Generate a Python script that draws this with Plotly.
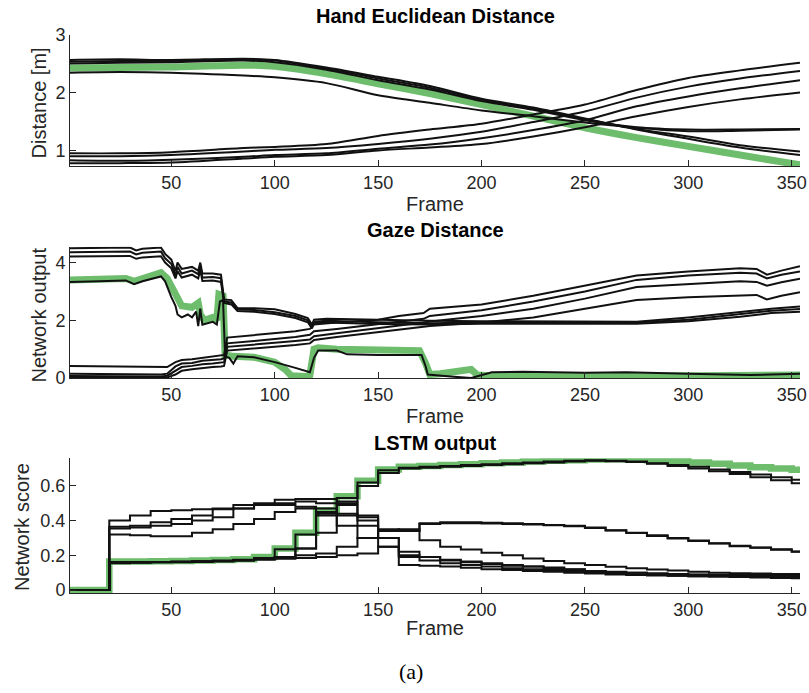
import plotly.graph_objects as go

# ---------------- Panel 1: Hand Euclidean Distance ----------------
hand_frames = [1, 25, 50, 85, 100, 125, 150, 175, 200, 225, 250, 275, 300, 325, 354]
hand_green = [2.43, 2.44, 2.45, 2.48, 2.46, 2.33, 2.16, 1.99, 1.80, 1.60, 1.40, 1.23, 1.08, 0.93, 0.76]
hand_a = [0.96, 0.96, 0.98, 1.05, 1.07, 1.12, 1.26, 1.37, 1.47, 1.63, 1.80, 2.05, 2.26, 2.39, 2.52]
hand_b = [0.91, 0.91, 0.93, 0.99, 1.02, 1.05, 1.12, 1.21, 1.33, 1.50, 1.68, 1.92, 2.11, 2.25, 2.38]
hand_c = [0.84, 0.83, 0.85, 0.90, 0.93, 0.96, 1.04, 1.11, 1.22, 1.36, 1.53, 1.77, 1.94, 2.08, 2.22]
hand_d = [0.79, 0.79, 0.80, 0.87, 0.90, 0.93, 1.01, 1.06, 1.12, 1.25, 1.41, 1.60, 1.76, 1.89, 2.01]
hand_e = [2.35, 2.36, 2.35, 2.30, 2.27, 2.17, 1.96, 1.83, 1.70, 1.60, 1.49, 1.40, 1.34, 1.35, 1.37]
hand_f = [2.51, 2.52, 2.53, 2.56, 2.53, 2.40, 2.22, 2.06, 1.86, 1.71, 1.53, 1.41, 1.37, 1.37, 1.38]
hand_g = [2.54, 2.55, 2.55, 2.58, 2.56, 2.42, 2.25, 2.09, 1.88, 1.73, 1.55, 1.38, 1.25, 1.10, 0.99]
hand_h = [2.57, 2.58, 2.57, 2.59, 2.57, 2.44, 2.28, 2.12, 1.90, 1.75, 1.56, 1.37, 1.21, 1.06, 0.93]

# ---------------- Panel 2: Gaze Distance ----------------
gaze_top_frames = [1, 30, 33, 36, 45, 47, 50, 52, 53, 55, 60, 63, 64, 65, 70, 74, 75.5, 79, 82, 90,
                   100, 110, 116, 118, 119, 125, 150, 175, 200, 225, 250, 275, 300, 325, 340, 354]
gaze_t1 = [4.50, 4.52, 4.42, 4.48, 4.52, 4.30, 4.10, 3.70, 4.00, 3.78, 3.85, 3.72, 4.00, 3.62, 3.62, 3.58,
           2.72, 2.70, 2.42, 2.42, 2.38, 2.22, 2.08, 1.85, 2.02, 2.05, 2.02, 1.98, 1.97, 1.97, 1.96, 1.95,
           2.10, 2.30, 2.40, 2.48]
gaze_t2 = [4.36, 4.38, 4.28, 4.34, 4.38, 4.15, 3.95, 3.55, 3.85, 3.62, 3.72, 3.60, 3.90, 3.48, 3.50, 3.46,
           2.65, 2.62, 2.38, 2.36, 2.28, 2.15, 2.00, 1.78, 1.95, 1.98, 1.93, 1.90, 1.92, 1.92, 1.92, 1.92,
           2.02, 2.20, 2.33, 2.39]
gaze_t3 = [4.21, 4.23, 4.13, 4.18, 4.22, 4.00, 3.80, 3.45, 3.70, 3.48, 3.58, 3.45, 3.75, 3.36, 3.38, 3.33,
           2.60, 2.55, 2.32, 2.30, 2.22, 2.08, 1.93, 1.72, 1.90, 1.92, 1.87, 1.85, 1.88, 1.89, 1.88, 1.88,
           1.97, 2.12, 2.25, 2.30]

gaze_rise_frames = [1, 45, 48, 52, 55, 60, 65, 70, 74, 75.5, 77, 90, 100, 110, 117, 119, 130, 150, 160,
                    172, 175, 200, 225, 250, 275, 300, 325, 333, 338, 345, 354]
gaze_r1 = [0.42, 0.40, 0.38, 0.55, 0.62, 0.65, 0.70, 0.75, 0.78, 0.80, 1.40, 1.48, 1.55, 1.62, 1.70, 1.85,
           1.92, 2.02, 2.15, 2.25, 2.40, 2.55, 2.85, 3.20, 3.55, 3.69, 3.80, 3.78, 3.58, 3.72, 3.87]
gaze_r2 = [0.15, 0.12, 0.15, 0.40, 0.50, 0.52, 0.60, 0.62, 0.65, 0.68, 1.20, 1.28, 1.35, 1.42, 1.50, 1.62,
           1.70, 1.85, 1.95, 2.05, 2.15, 2.35, 2.65, 3.00, 3.40, 3.55, 3.65, 3.62, 3.45, 3.58, 3.69]
gaze_r3 = [0.07, 0.05, 0.08, 0.25, 0.38, 0.42, 0.48, 0.50, 0.52, 0.55, 1.08, 1.15, 1.22, 1.28, 1.33, 1.45,
           1.55, 1.72, 1.82, 1.92, 1.96, 2.15, 2.40, 2.75, 3.15, 3.25, 3.35, 3.33, 3.20, 3.32, 3.44]
gaze_r4 = [0.02, 0.00, 0.02, 0.12, 0.25, 0.30, 0.35, 0.38, 0.40, 0.42, 0.95, 1.02, 1.08, 1.14, 1.20, 1.32,
           1.42, 1.58, 1.68, 1.76, 1.80, 1.92, 2.10, 2.40, 2.70, 2.80, 2.88, 2.88, 2.72, 2.85, 2.97]

gaze_black_frames = [1, 28, 32, 36, 45, 47, 50, 52, 53, 55, 58, 60, 62, 63, 64, 65, 70, 72, 73.5, 75,
                     76, 78, 80, 82, 90, 100, 110, 117, 119, 121, 130, 135, 150, 171, 173, 174, 185, 195,
                     205, 220, 250, 270, 300, 330, 354]
gaze_black = [3.33, 3.38, 3.25, 3.35, 3.52, 3.35, 2.80, 2.50, 2.20, 2.10, 2.20, 2.10, 2.30, 1.80, 2.40,
              1.85, 1.95, 1.85, 2.65, 2.70, 0.75, 0.70, 0.50, 0.75, 0.72, 0.55, 0.35, 0.20, 0.70, 0.95,
              0.95, 0.82, 0.80, 0.80, 0.40, 0.12, 0.05, 0.00, 0.20, 0.22, 0.18, 0.20, 0.15, 0.10, 0.15]

gaze_green_frames = [1, 28, 32, 36, 45, 48, 52, 55, 60, 63, 64, 66, 70, 72, 73, 75, 76, 80, 90, 100,
                     105, 108, 115, 117, 119, 121, 130, 150, 170, 173, 175, 180, 190, 195, 198, 210,
                     250, 300, 354]
gaze_green = [3.40, 3.45, 3.35, 3.45, 3.65, 3.45, 2.90, 2.50, 2.45, 2.60, 2.20, 2.00, 2.10, 2.00, 2.90,
              2.85, 0.80, 0.75, 0.72, 0.55, 0.30, 0.08, 0.05, 0.10, 1.00, 1.05, 1.00, 0.98, 0.95, 0.50,
              0.12, 0.15, 0.25, 0.30, 0.10, 0.05, 0.05, 0.05, 0.10]

# ---------------- Panel 3: LSTM output (step values every 10 frames) ----------------
lstm_frames = [1, 20, 30, 40, 50, 60, 70, 80, 90, 100, 110, 120, 130, 140, 150, 160, 170, 180, 190, 200,
               210, 220, 230, 240, 250, 260, 270, 280, 290, 300, 310, 320, 330, 340, 350, 354]
lstm_green = [0, 0.165, 0.165, 0.166, 0.167, 0.17, 0.173, 0.177, 0.19, 0.24, 0.33, 0.46, 0.54, 0.63,
              0.695, 0.71, 0.715, 0.72, 0.725, 0.73, 0.735, 0.74, 0.745, 0.748, 0.752, 0.754, 0.752,
              0.748, 0.742, 0.735, 0.727, 0.718, 0.708, 0.70, 0.693, 0.693]
lstm_l1 = [0, 0.40, 0.43, 0.455, 0.46, 0.465, 0.47, 0.49, 0.50, 0.52, 0.525, 0.525, 0.51, 0.43, 0.35,
           0.345, 0.385, 0.39, 0.39, 0.388, 0.385, 0.38, 0.375, 0.37, 0.36, 0.345, 0.33, 0.315, 0.30,
           0.285, 0.27, 0.255, 0.245, 0.235, 0.222, 0.22]
lstm_l2 = [0, 0.365, 0.37, 0.39, 0.41, 0.43, 0.465, 0.47, 0.49, 0.50, 0.51, 0.50, 0.49, 0.40, 0.34,
           0.34, 0.38, 0.385, 0.385, 0.383, 0.38, 0.378, 0.373, 0.367, 0.357, 0.343, 0.328, 0.312,
           0.297, 0.282, 0.268, 0.253, 0.243, 0.232, 0.22, 0.218]
lstm_l3 = [0, 0.355, 0.36, 0.37, 0.38, 0.40, 0.42, 0.47, 0.49, 0.49, 0.48, 0.47, 0.43, 0.37, 0.30,
           0.22, 0.19, 0.17, 0.16, 0.15, 0.14, 0.135, 0.13, 0.12, 0.11, 0.105, 0.10, 0.095, 0.09,
           0.088, 0.085, 0.083, 0.08, 0.078, 0.075, 0.075]
lstm_l4 = [0, 0.32, 0.315, 0.31, 0.31, 0.33, 0.35, 0.38, 0.41, 0.45, 0.47, 0.43, 0.37, 0.30, 0.25,
           0.19, 0.17, 0.155, 0.145, 0.135, 0.125, 0.12, 0.115, 0.11, 0.10, 0.095, 0.09, 0.086,
           0.082, 0.08, 0.078, 0.075, 0.072, 0.07, 0.068, 0.067]
lstm_l5 = [0, 0.16, 0.16, 0.162, 0.163, 0.165, 0.168, 0.172, 0.18, 0.19, 0.20, 0.21, 0.25, 0.30, 0.34,
           0.35, 0.287, 0.25, 0.234, 0.215, 0.20, 0.182, 0.168, 0.155, 0.144, 0.134, 0.125, 0.118,
           0.112, 0.105, 0.10, 0.097, 0.095, 0.093, 0.092, 0.092]
lstm_l6 = [0, 0.16, 0.16, 0.162, 0.163, 0.166, 0.17, 0.175, 0.185, 0.235, 0.32, 0.45, 0.53, 0.62, 0.69,
           0.705, 0.71, 0.715, 0.72, 0.725, 0.73, 0.735, 0.74, 0.745, 0.748, 0.745, 0.74, 0.73, 0.72,
           0.71, 0.695, 0.68, 0.665, 0.65, 0.635, 0.632]
lstm_l7 = [0, 0.155, 0.158, 0.16, 0.162, 0.165, 0.168, 0.172, 0.18, 0.19, 0.24, 0.44, 0.50, 0.60, 0.675,
           0.70, 0.705, 0.71, 0.715, 0.72, 0.725, 0.73, 0.735, 0.74, 0.745, 0.742, 0.737, 0.727, 0.715,
           0.70, 0.685, 0.668, 0.65, 0.632, 0.615, 0.61]
lstm_l8 = [0, 0.16, 0.16, 0.162, 0.163, 0.165, 0.168, 0.172, 0.18, 0.19, 0.24, 0.33, 0.44, 0.42, 0.30,
           0.20, 0.19, 0.175, 0.165, 0.155, 0.145, 0.135, 0.125, 0.118, 0.11, 0.104, 0.10, 0.096,
           0.093, 0.09, 0.088, 0.087, 0.086, 0.085, 0.084, 0.084]
lstm_l9 = [0, 0.158, 0.158, 0.16, 0.16, 0.162, 0.165, 0.17, 0.175, 0.18, 0.185, 0.19, 0.20, 0.21, 0.25,
           0.145, 0.14, 0.135, 0.128, 0.12, 0.115, 0.11, 0.105, 0.10, 0.095, 0.09, 0.087, 0.084,
           0.082, 0.08, 0.078, 0.077, 0.076, 0.075, 0.074, 0.074]

x_ticks = [50, 100, 150, 200, 250, 300, 350]

GREEN = "#6dbd6d"
BLACK = "#111111"
AXC = "#262626"
FONT = "Liberation Sans, Arial, Helvetica, sans-serif"

fig = go.Figure()


def add(x, y, ax, color, width, shape="linear"):
    line = dict(color=color, width=width, shape=shape)
    if shape == "spline":
        line["smoothing"] = 0.8
    fig.add_trace(go.Scatter(x=x, y=y, mode="lines", line=line, xaxis="x" + ax, yaxis="y" + ax,
                             showlegend=False, hoverinfo="skip"))


# panel 1
add(hand_frames, hand_green, "", GREEN, 7, "spline")
for ys in [hand_a, hand_b, hand_c, hand_d, hand_e, hand_f, hand_g, hand_h]:
    add(hand_frames, ys, "", BLACK, 2, "spline")

# panel 2
add(gaze_green_frames, gaze_green, "2", GREEN, 7)
for ys in [gaze_t1, gaze_t2, gaze_t3]:
    add(gaze_top_frames, ys, "2", BLACK, 2)
for ys in [gaze_r1, gaze_r2, gaze_r3, gaze_r4]:
    add(gaze_rise_frames, ys, "2", BLACK, 2)
add(gaze_black_frames, gaze_black, "2", BLACK, 2)

# panel 3
add(lstm_frames, lstm_green, "3", GREEN, 6.5, "hv")
for ys in [lstm_l1, lstm_l2, lstm_l3, lstm_l4, lstm_l5, lstm_l8, lstm_l9, lstm_l6, lstm_l7]:
    add(lstm_frames, ys, "3", BLACK, 2, "hv")

W, H = 809, 693
xdom = [70 / W, 800 / W]


def ydom(top_px, bot_px):
    return [1 - bot_px / H, 1 - top_px / H]


def xaxis(anchor):
    return dict(domain=xdom, range=[1, 354], tickvals=x_ticks, ticks="inside", ticklen=6,
                tickcolor=AXC, tickwidth=1, showline=True, linecolor=AXC, linewidth=1,
                showgrid=False, zeroline=False, anchor=anchor, automargin=False,
                tickfont=dict(family=FONT, size=18, color=AXC))


def yaxis(anchor, dom, rng, tv, tt):
    return dict(domain=dom, range=rng, tickvals=tv, ticktext=tt, ticks="inside", ticklen=6,
                tickcolor=AXC, tickwidth=1, showline=True, linecolor=AXC, linewidth=1,
                showgrid=False, zeroline=False, anchor=anchor, automargin=False,
                tickfont=dict(family=FONT, size=18, color=AXC))


fig.update_layout(
    template="none",
    width=W, height=H, margin=dict(l=0, r=0, t=0, b=0, pad=0, autoexpand=False),
    paper_bgcolor="white", plot_bgcolor="white",
    xaxis=xaxis("y"), xaxis2=xaxis("y2"), xaxis3=xaxis("y3"),
    yaxis=yaxis("x", ydom(35, 166), [0.741, 3.0], [1, 2, 3], ["1", "2", "3"]),
    yaxis2=yaxis("x2", ydom(246.7, 378), [0, 4.55], [0, 2, 4], ["0", "2", "4"]),
    yaxis3=yaxis("x3", ydom(458.3, 593), [-0.017, 0.759], [0, 0.2, 0.4, 0.6],
                 ["0", "0.2", "0.4", "0.6"]),
)


def ann(text, xpx, ypx, size, bold=False, angle=0, family=FONT, color="black"):
    if bold:
        text = "<b>" + text + "</b>"
    fig.add_annotation(text=text, x=xpx / W, y=1 - ypx / H, xref="paper", yref="paper",
                       showarrow=False, textangle=angle, xanchor="center", yanchor="middle",
                       font=dict(family=family, size=size, color=color))


cx = (70 + 800) / 2
ann("Hand Euclidean Distance", cx, 16, 20, bold=True)
ann("Gaze Distance", cx, 230, 20, bold=True)
ann("LSTM output", cx, 443, 20, bold=True)
ann("Frame", cx, 204, 20, color=AXC)
ann("Frame", cx, 416, 20, color=AXC)
ann("Frame", cx, 628, 20, color=AXC)
ann("Distance [m]", 38.5, 103, 20, angle=-90, color=AXC)
ann("Network output", 38.5, 315, 20, angle=-90, color=AXC)
ann("Network score", 22, 527, 20, angle=-90, color=AXC)
ann("(a)", 411, 671, 22, family="Liberation Serif, Times New Roman, serif")

fig.write_html(
    "out.html",
    config={"displayModeBar": False},
    post_script="document.body.style.margin='0px';document.body.style.padding='0px';",
)
